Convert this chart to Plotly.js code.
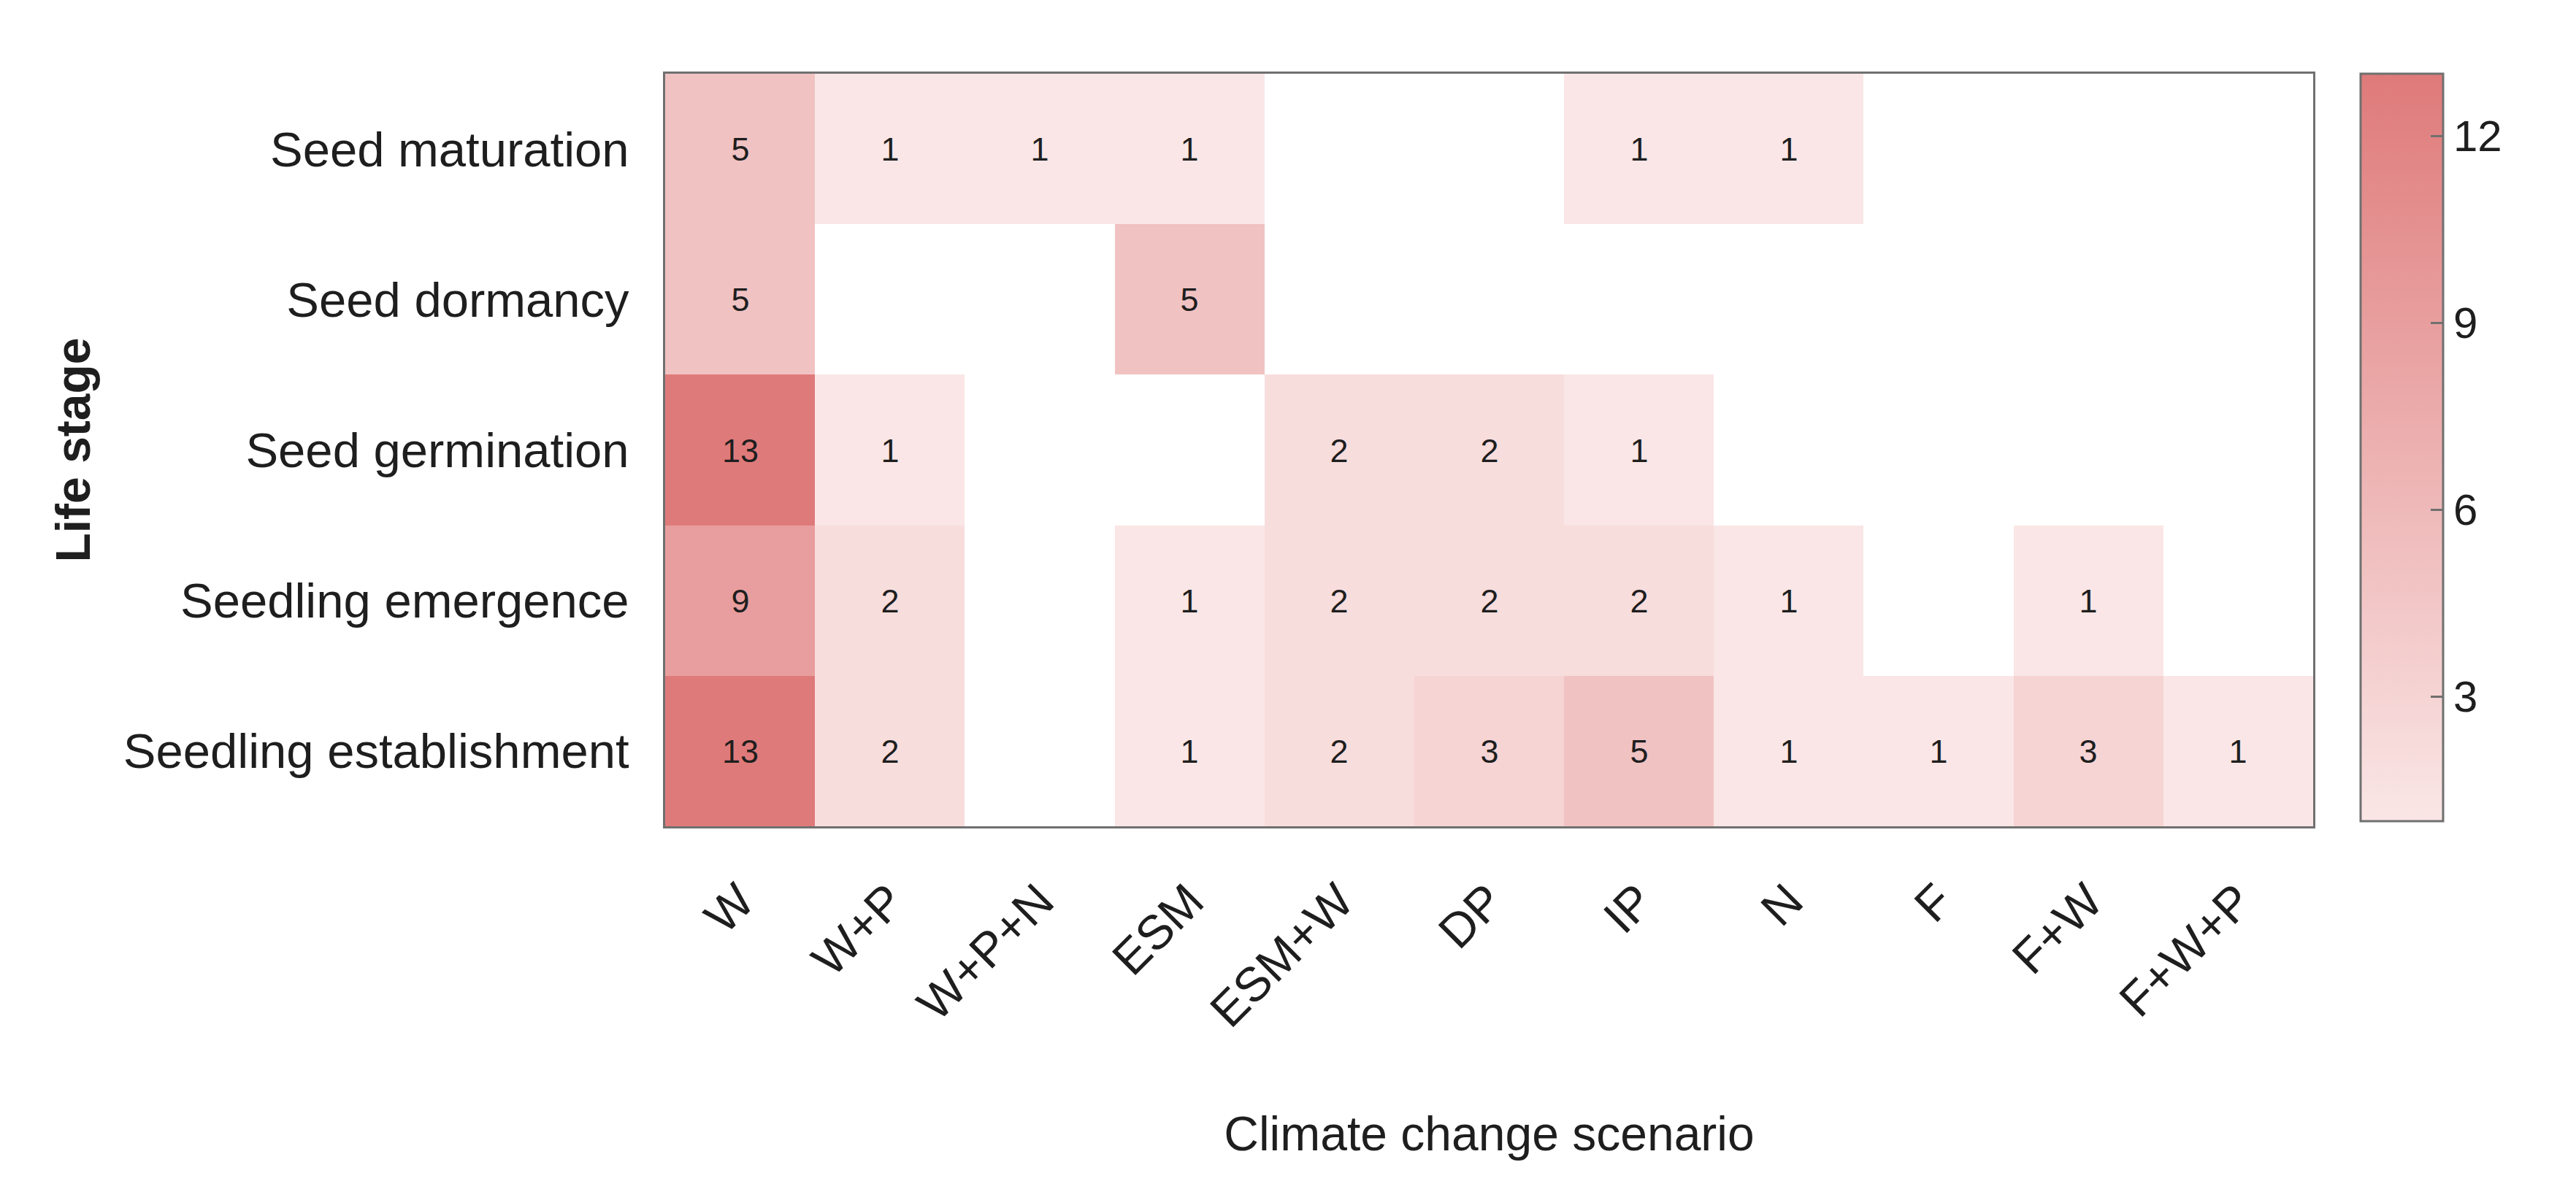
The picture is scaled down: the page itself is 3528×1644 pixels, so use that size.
<!DOCTYPE html>
<html>
<head>
<meta charset="utf-8">
<script src="https://cdn.plot.ly/plotly-3.0.1.min.js"></script>
<style>html,body{margin:0;padding:0;background:#fff;}</style>
</head>
<body>
<div id="chart" style="width:3528px;height:1644px;"></div>
<script>
// Climate change scenarios (columns)
const scenarios = ["W", "W+P", "W+P+N", "ESM", "ESM+W", "DP", "IP", "N", "F", "F+W", "F+W+P"];
// Life stages (rows, top to bottom)
const lifeStages = ["Seed maturation", "Seed dormancy", "Seed germination", "Seedling emergence", "Seedling establishment"];
// Counts per life stage across scenarios
const seedMaturation        = [5, 1, 1, 1, 0, 0, 1, 1, 0, 0, 0];
const seedDormancy          = [5, 0, 0, 5, 0, 0, 0, 0, 0, 0, 0];
const seedGermination       = [13, 1, 0, 0, 2, 2, 1, 0, 0, 0, 0];
const seedlingEmergence     = [9, 2, 0, 1, 2, 2, 2, 1, 0, 1, 0];
const seedlingEstablishment = [13, 2, 0, 1, 2, 3, 5, 1, 1, 3, 1];
const colorbarTicks = [3, 6, 9, 12];

const rows = [seedMaturation, seedDormancy, seedGermination, seedlingEmergence, seedlingEstablishment];
const z = rows.map(r => r.map(v => v === 0 ? null : v));
const txt = rows.map(r => r.map(v => v === 0 ? "" : String(v)));

const FONT = '"Liberation Sans", Arial, Helvetica, sans-serif';

const trace = {
  type: "heatmap",
  x: scenarios,
  y: lifeStages,
  z: z,
  text: txt,
  texttemplate: "%{text}",
  textfont: {family: FONT, size: 45, color: "#1e1e1e"},
  zmin: 1,
  zmax: 13,
  colorscale: [[0, "#fae6e6"], [1, "#df7a7a"]],
  xgap: 0, ygap: 0,
  hoverongaps: false,
  colorbar: {
    thickness: 113,
    thicknessmode: "pixels",
    len: 0.993,
    lenmode: "fraction",
    x: 1.0288,
    xanchor: "left",
    y: 1,
    yanchor: "top",
    xpad: 0,
    ypad: 0,
    outlinewidth: 3,
    outlinecolor: "#707070",
    tickvals: colorbarTicks,
    ticks: "inside",
    ticklen: 18,
    tickwidth: 3,
    tickcolor: "#707070",
    ticklabelposition: "outside",
    tickfont: {family: FONT, size: 60, color: "#1e1e1e"}
  }
};

const layout = {
  width: 3528,
  height: 1644,
  margin: {l: 911, r: 360, t: 101, b: 512, pad: 0},
  paper_bgcolor: "#ffffff",
  plot_bgcolor: "#ffffff",
  font: {family: FONT, color: "#1e1e1e"},
  xaxis: {
    type: "category",
    showline: true,
    mirror: true,
    linecolor: "#707070",
    linewidth: 3,
    showgrid: false,
    zeroline: false,
    ticks: "",
    tickangle: -45,
    ticklabelstandoff: 34,
    tickfont: {family: FONT, size: 66, color: "#1e1e1e"},
    title: {text: "Climate change scenario", font: {family: FONT, size: 66, color: "#1e1e1e"}, standoff: 110}
  },
  yaxis: {
    type: "category",
    autorange: "reversed",
    showline: true,
    mirror: true,
    linecolor: "#707070",
    linewidth: 3,
    showgrid: false,
    zeroline: false,
    ticks: "",
    ticklabelstandoff: 33,
    tickfont: {family: FONT, size: 67, color: "#1e1e1e"},
    title: {text: "Life stage", font: {family: FONT, size: 66, color: "#1e1e1e", weight: "bold"}, standoff: 24}
  }
};

Plotly.newPlot("chart", [trace], layout, {displayModeBar: false, staticPlot: true});
</script>
</body>
</html>
